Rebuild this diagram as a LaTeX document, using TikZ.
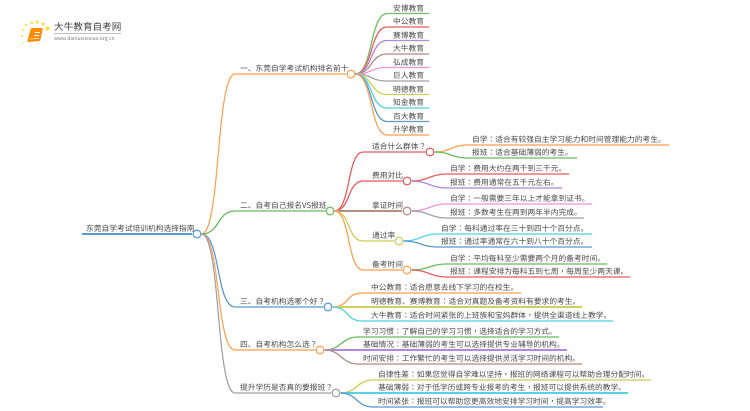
\documentclass[tikz,border=0pt]{standalone}
\usepackage{fontspec}
\setmainfont{Noto Sans CJK SC}
\newfontfamily\puncfont{Noto Sans CJK TC}
\newcommand\cln{{\puncfont ：}}
\newcommand\cma{{\puncfont ，}}
\newcommand\qst{{\puncfont ？}}
\definecolor{cgreen}{HTML}{6CC05F}
\definecolor{cred}{HTML}{E9605F}
\definecolor{cpurple}{HTML}{B088DC}
\definecolor{cbrown}{HTML}{B58F84}
\definecolor{cpink}{HTML}{EE95DC}
\definecolor{cgrey}{HTML}{A3A3A3}
\definecolor{colive}{HTML}{CFCF5C}
\definecolor{ccyan}{HTML}{55D2E8}
\definecolor{cblue}{HTML}{5B9BD5}
\definecolor{corange}{HTML}{FFA355}
\tikzset{
  hub/.style={circle,draw=#1,fill=white,line width=1.1pt,minimum size=8pt,inner sep=0pt},
  lab/.style={anchor=base west,inner sep=0pt,text=black!72,font=\fontsize{7.75}{9}\selectfont},
  link/.style={draw=#1,line width=1.2pt}
}
\begin{document}
\begin{tikzpicture}[x=1pt,y=-1pt]
\useasboundingbox (0,0) rectangle (750,410);
% logo
\foreach \x/\y/\r in {32/23/1.7,37/22/1.8,43/24/1.8,47.5/28.5/2.2,26/25/1.4,23/30/1.2,22/36/1.1,23/43/0.9}
  \fill[yellow!70!orange!75] (\x,\y) circle (\r);
\fill[orange!90!yellow,rounded corners=1pt] (31,28) -- (43,28) -- (40,41) -- (27,42) -- cycle;
\draw[white,line width=0.5pt] (35,32) -- (40,32) (34,35) -- (39,35);
\draw[white,line width=0.5pt] (29,39) -- (39,38.5);
\node[lab,font=\fontsize{9.6}{11}\selectfont,text=black!75] (title) at (54,30.5) {大牛教育自考网};
\coordinate (rulea) at (54,33.5);
\coordinate (ruleb) at (121,33.5);
\draw[black!25,line width=0.4pt] (rulea) -- (ruleb);
\node[lab,font=\fontsize{5}{6}\selectfont,text=black!55] (url) at (54,40.5) {www.daniuxuexiao.org.cn};
% root
\node[hub=cblue] (root) at (197,234) {};
\coordinate (rootstart) at (82,234);
\node[lab] (roottext) at (86,231.5) {东莞自学考试培训机构选择指南};
\path[link=cblue] (rootstart) -- (root);
% first level
\foreach \n/\xh/\yh/\xs/\xt/\c/\t in {
  a/351/74/235/240/corange/一、东莞自学考试机构排名前十,
  b/330/211/235/240/cgreen/二、自考自己报名VS报班,
  c/328/307/235/240/cblue/三、自考机构选哪个好\qst,
  d/320/350/235/240/corange/四、自考机构怎么选\qst,
  e/336/393/235/240/cgrey/提升学历是否真的要报班\qst}{
  \node[hub=\c] (\n) at (\xh,\yh) {};
  \coordinate (\n s) at (\xs,\yh);
  \node[lab] (\n t) at (\xt,\yh-2.5) {\t};
  \path[link=\c] (root.east) .. controls +(19,0) and +(-19,0) .. (\n s) -- (\n);
}
% second level, under b
\foreach \n/\xh/\yh/\xs/\c/\t in {
  b1/430/152/363/cred/适合什么群体\qst,
  b2/407/181/363/cred/费用对比,
  b3/407/211/363/cbrown/拿证时间,
  b4/399/241/363/colive/通过率,
  b5/407/270/363/corange/备考时间}{
  \node[hub=\c] (\n) at (\xh,\yh) {};
  \coordinate (\n s) at (\xs,\yh);
  \node[lab] (\n t) at (\xs+9,\yh-2.5) {\t};
  \path[link=\c] (b.east) .. controls +(16,0) and +(-16,0) .. (\n s) -- (\n);
}
% leaves
\foreach \p/\n/\xs/\xt/\y/\xe/\c/\t in {
  a/a1/387/393/13.5/429/cgreen/安博教育,
  a/a2/387/393/27/429/cred/中公教育,
  a/a3/387/393/40.5/429/cpurple/赛博教育,
  a/a4/387/393/54/429/cbrown/大牛教育,
  a/a5/387/393/67.5/429/cpink/弘成教育,
  a/a6/387/393/81/429/cgrey/巨人教育,
  a/a7/387/393/94.5/429/colive/明德教育,
  a/a8/387/393/108/429/ccyan/知金教育,
  a/a9/387/393/121.5/429/cblue/百大教育,
  a/a10/387/393/135/429/corange/升学教育,
  b1/b11/468/472/145/669/corange/自学\cln 适合有较强自主学习能力和时间管理能力的考生。,
  b1/b12/468/472/158/577/cgreen/报班\cln 适合基础薄弱的考生。,
  b2/b21/447/450/174/569/cred/自学\cln 费用大约在两千到三千元。,
  b2/b22/447/450/188/562/cpurple/报班\cln 费用通常在五千元左右。,
  b3/b31/447/450/204/592/cpink/自学\cln 一般需要三年以上才能拿到证书。,
  b3/b32/447/450/218/584/cgrey/报班\cln 多数考生在两到两年半内完成。,
  b4/b41/438/441/234/592/ccyan/自学\cln 每科通过率在三十到四十个百分点。,
  b4/b42/438/441/247/592/cblue/报班\cln 通过率通常在六十到八十个百分点。,
  b5/b51/447/450/264/607/cgreen/自学\cln 平均每科至少需要两个月的备考时间。,
  b5/b52/447/450/277/630/cred/报班\cln 课程安排为每科五到七周\cma 每周至少两天课。,
  c/c1/362/371/293/521/corange/中公教育\cln 适合愿意去线下学习的在校生。,
  c/c2/362/371/307/582/colive/明德教育、赛博教育\cln 适合对真题及备考资料有要求的考生。,
  c/c3/362/371/321/613/ccyan/大牛教育\cln 适合时间紧张的上班族和宝妈群体\cma 提供全渠道线上教学。,
  d/d1/358/363/337/559/cgreen/学习习惯\cln 了解自己的学习习惯\cma 选择适合的学习方式。,
  d/d2/358/363/350/567/cpurple/基础情况\cln 基础薄弱的考生可以选择提供专业辅导的机构。,
  d/d3/358/363/364/582/cbrown/时间安排\cln 工作繁忙的考生可以选择提供灵活学习时间的机构。,
  e/e1/373/378/380/651/colive/自律性差\cln 如果您觉得自学难以坚持\cma 报班的网络课程可以帮助合理分配时间。,
  e/e2/373/378/393/628/ccyan/基础薄弱\cln 对于低学历或跨专业报考的考生\cma 报班可以提供系统的教学。,
  e/e3/373/378/407/603/cblue/时间紧张\cln 报班可以帮助您更高效地安排学习时间\cma 提高学习效率。}{
  \coordinate (\n s) at (\xs,\y);
  \coordinate (\n e) at (\xe,\y);
  \node[lab] (\n t) at (\xt,\y-2.5) {\t};
  \path[link=\c] (\p.east) .. controls +(17,0) and +(-17,0) .. (\n s) -- (\n e);
}
\end{tikzpicture}
\end{document}
